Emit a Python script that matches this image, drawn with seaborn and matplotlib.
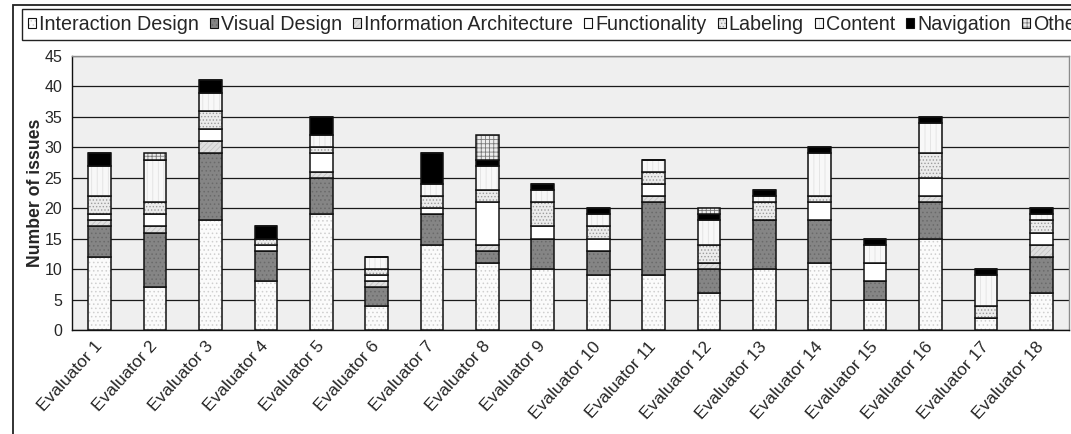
import numpy as np
import matplotlib
matplotlib.use("Agg")
import matplotlib.pyplot as plt
import matplotlib.patches as mpatches
import matplotlib.colors as mcolors
import seaborn as sns

# Issues found per evaluator, split by problem category (stacked bottom to top)
evaluators = ["Evaluator 1", "Evaluator 2", "Evaluator 3", "Evaluator 4", "Evaluator 5",
              "Evaluator 6", "Evaluator 7", "Evaluator 8", "Evaluator 9", "Evaluator 10",
              "Evaluator 11", "Evaluator 12", "Evaluator 13", "Evaluator 14", "Evaluator 15",
              "Evaluator 16", "Evaluator 17", "Evaluator 18"]
interaction_design = [12, 7, 18, 8, 19, 4, 14, 11, 10, 9, 9, 6, 10, 11, 5, 15, 2, 6]
visual_design      = [5, 9, 11, 5, 6, 3, 5, 2, 5, 4, 12, 4, 8, 7, 3, 6, 0, 6]
information_arch   = [1, 1, 2, 0, 1, 1, 0, 1, 0, 0, 1, 1, 0, 0, 0, 1, 0, 2]
functionality      = [1, 2, 2, 1, 3, 1, 1, 7, 2, 2, 2, 0, 0, 3, 3, 3, 0, 2]
labeling           = [3, 2, 3, 1, 1, 1, 2, 2, 4, 2, 2, 3, 3, 1, 0, 4, 2, 2]
content            = [5, 7, 3, 0, 2, 2, 2, 4, 2, 2, 2, 4, 1, 7, 3, 5, 5, 1]
navigation         = [2, 0, 2, 2, 3, 0, 5, 1, 1, 1, 0, 1, 1, 1, 1, 1, 1, 1]
other              = [0, 1, 0, 0, 0, 0, 0, 4, 0, 0, 0, 1, 0, 0, 0, 0, 0, 0]

series_names = ["Interaction Design", "Visual Design", "Information Architecture",
                "Functionality", "Labeling", "Content", "Navigation", "Other"]
series_values = [interaction_design, visual_design, information_arch, functionality,
                 labeling, content, navigation, other]

# face colour, hatch pattern, hatch colour for each category
styles = [
    ("#fbfbfb", "....", "#cfcfcf"),
    ("#858585", "....", "#6a6a6a"),
    ("#e0e0e0", "//////", "#c4c4c4"),
    ("#ffffff", None, "#ffffff"),
    ("#ececec", ".....", "#9c9c9c"),
    ("#f8f8f8", "|||", "#e2e2e2"),
    ("#000000", None, "#000000"),
    ("#ececec", "++++", "#7a7a7a"),
]

sns.set_style("white")
plt.rcParams["font.family"] = ["Liberation Sans", "DejaVu Sans"]
plt.rcParams["hatch.linewidth"] = 0.6

W, H = 1071, 434
fig = plt.figure(figsize=(W / 100, H / 100), dpi=100)
ax = fig.add_axes([72 / W, 1 - 330 / H, (1069 - 72) / W, (330 - 56) / H])
ax.set_facecolor("#efefef")
ax.set_axisbelow(True)


def set_hatch_colour(patch, colour):
    if hasattr(patch, "set_hatchcolor"):
        patch.set_hatchcolor(colour)
    else:
        patch._hatch_color = mcolors.to_rgba(colour)


bottom = np.zeros(len(evaluators))
handles = []
for name, values, (face, hatch, hcol) in zip(series_names, series_values, styles):
    sns.barplot(x=evaluators, y=values, bottom=bottom, color=face, saturation=1,
                edgecolor="#111111", linewidth=1.1, hatch=hatch, width=0.41,
                ax=ax, zorder=3)
    for p in ax.containers[-1].patches:
        set_hatch_colour(p, hcol)
    h = mpatches.Patch(facecolor=face, edgecolor="#111111", linewidth=0.8, hatch=hatch)
    set_hatch_colour(h, hcol)
    handles.append(h)
    bottom = bottom + np.asarray(values)

ax.set_xlim(-0.5, len(evaluators) - 0.5)
ax.set_ylim(0, 45)
ax.set_yticks(range(0, 46, 5))
ax.yaxis.grid(True, color="#1a1a1a", linewidth=0.9)
ax.xaxis.grid(False)
ax.set_xlabel("")
ax.set_ylabel("Number of issues", fontsize=12.7, fontweight="bold")
ax.yaxis.set_label_coords(-0.028, 0.5)

ax.set_xticks(range(len(evaluators)))
ax.set_xticklabels(evaluators, rotation=48, ha="right", va="center",
                   rotation_mode="anchor", fontsize=12.5)
ax.tick_params(axis="x", which="major", length=0, pad=10)
ax.set_xticks(np.arange(-0.5, len(evaluators), 1), minor=True)
ax.tick_params(axis="x", which="minor", length=5, width=1, direction="out", color="#222222")
ax.tick_params(axis="y", which="major", length=5, width=1, direction="out",
               color="#222222", labelsize=11.5, pad=2)

for side in ("left", "bottom"):
    ax.spines[side].set_color("#111111")
    ax.spines[side].set_linewidth(1.0)
for side in ("top", "right"):
    ax.spines[side].set_color("#8c8c8c")
    ax.spines[side].set_linewidth(1.0)

# outer chart border
fig.add_artist(mpatches.Rectangle((13 / W, -0.2), 1.2, 1.2 - 5 / H, transform=fig.transFigure,
                                  fill=False, edgecolor="#222222", linewidth=1.3))

leg = fig.legend(handles, series_names, loc="upper left",
                 bbox_to_anchor=(22 / W, 1 - 9 / H), borderaxespad=0, ncol=8,
                 fontsize=14.2, frameon=True, fancybox=False, framealpha=1,
                 edgecolor="#222222", handlelength=0.42, handleheight=0.42,
                 handletextpad=0.15, columnspacing=0.55, borderpad=0.3)
leg.get_frame().set_linewidth(1.0)

fig.savefig("out.png", dpi=100)
